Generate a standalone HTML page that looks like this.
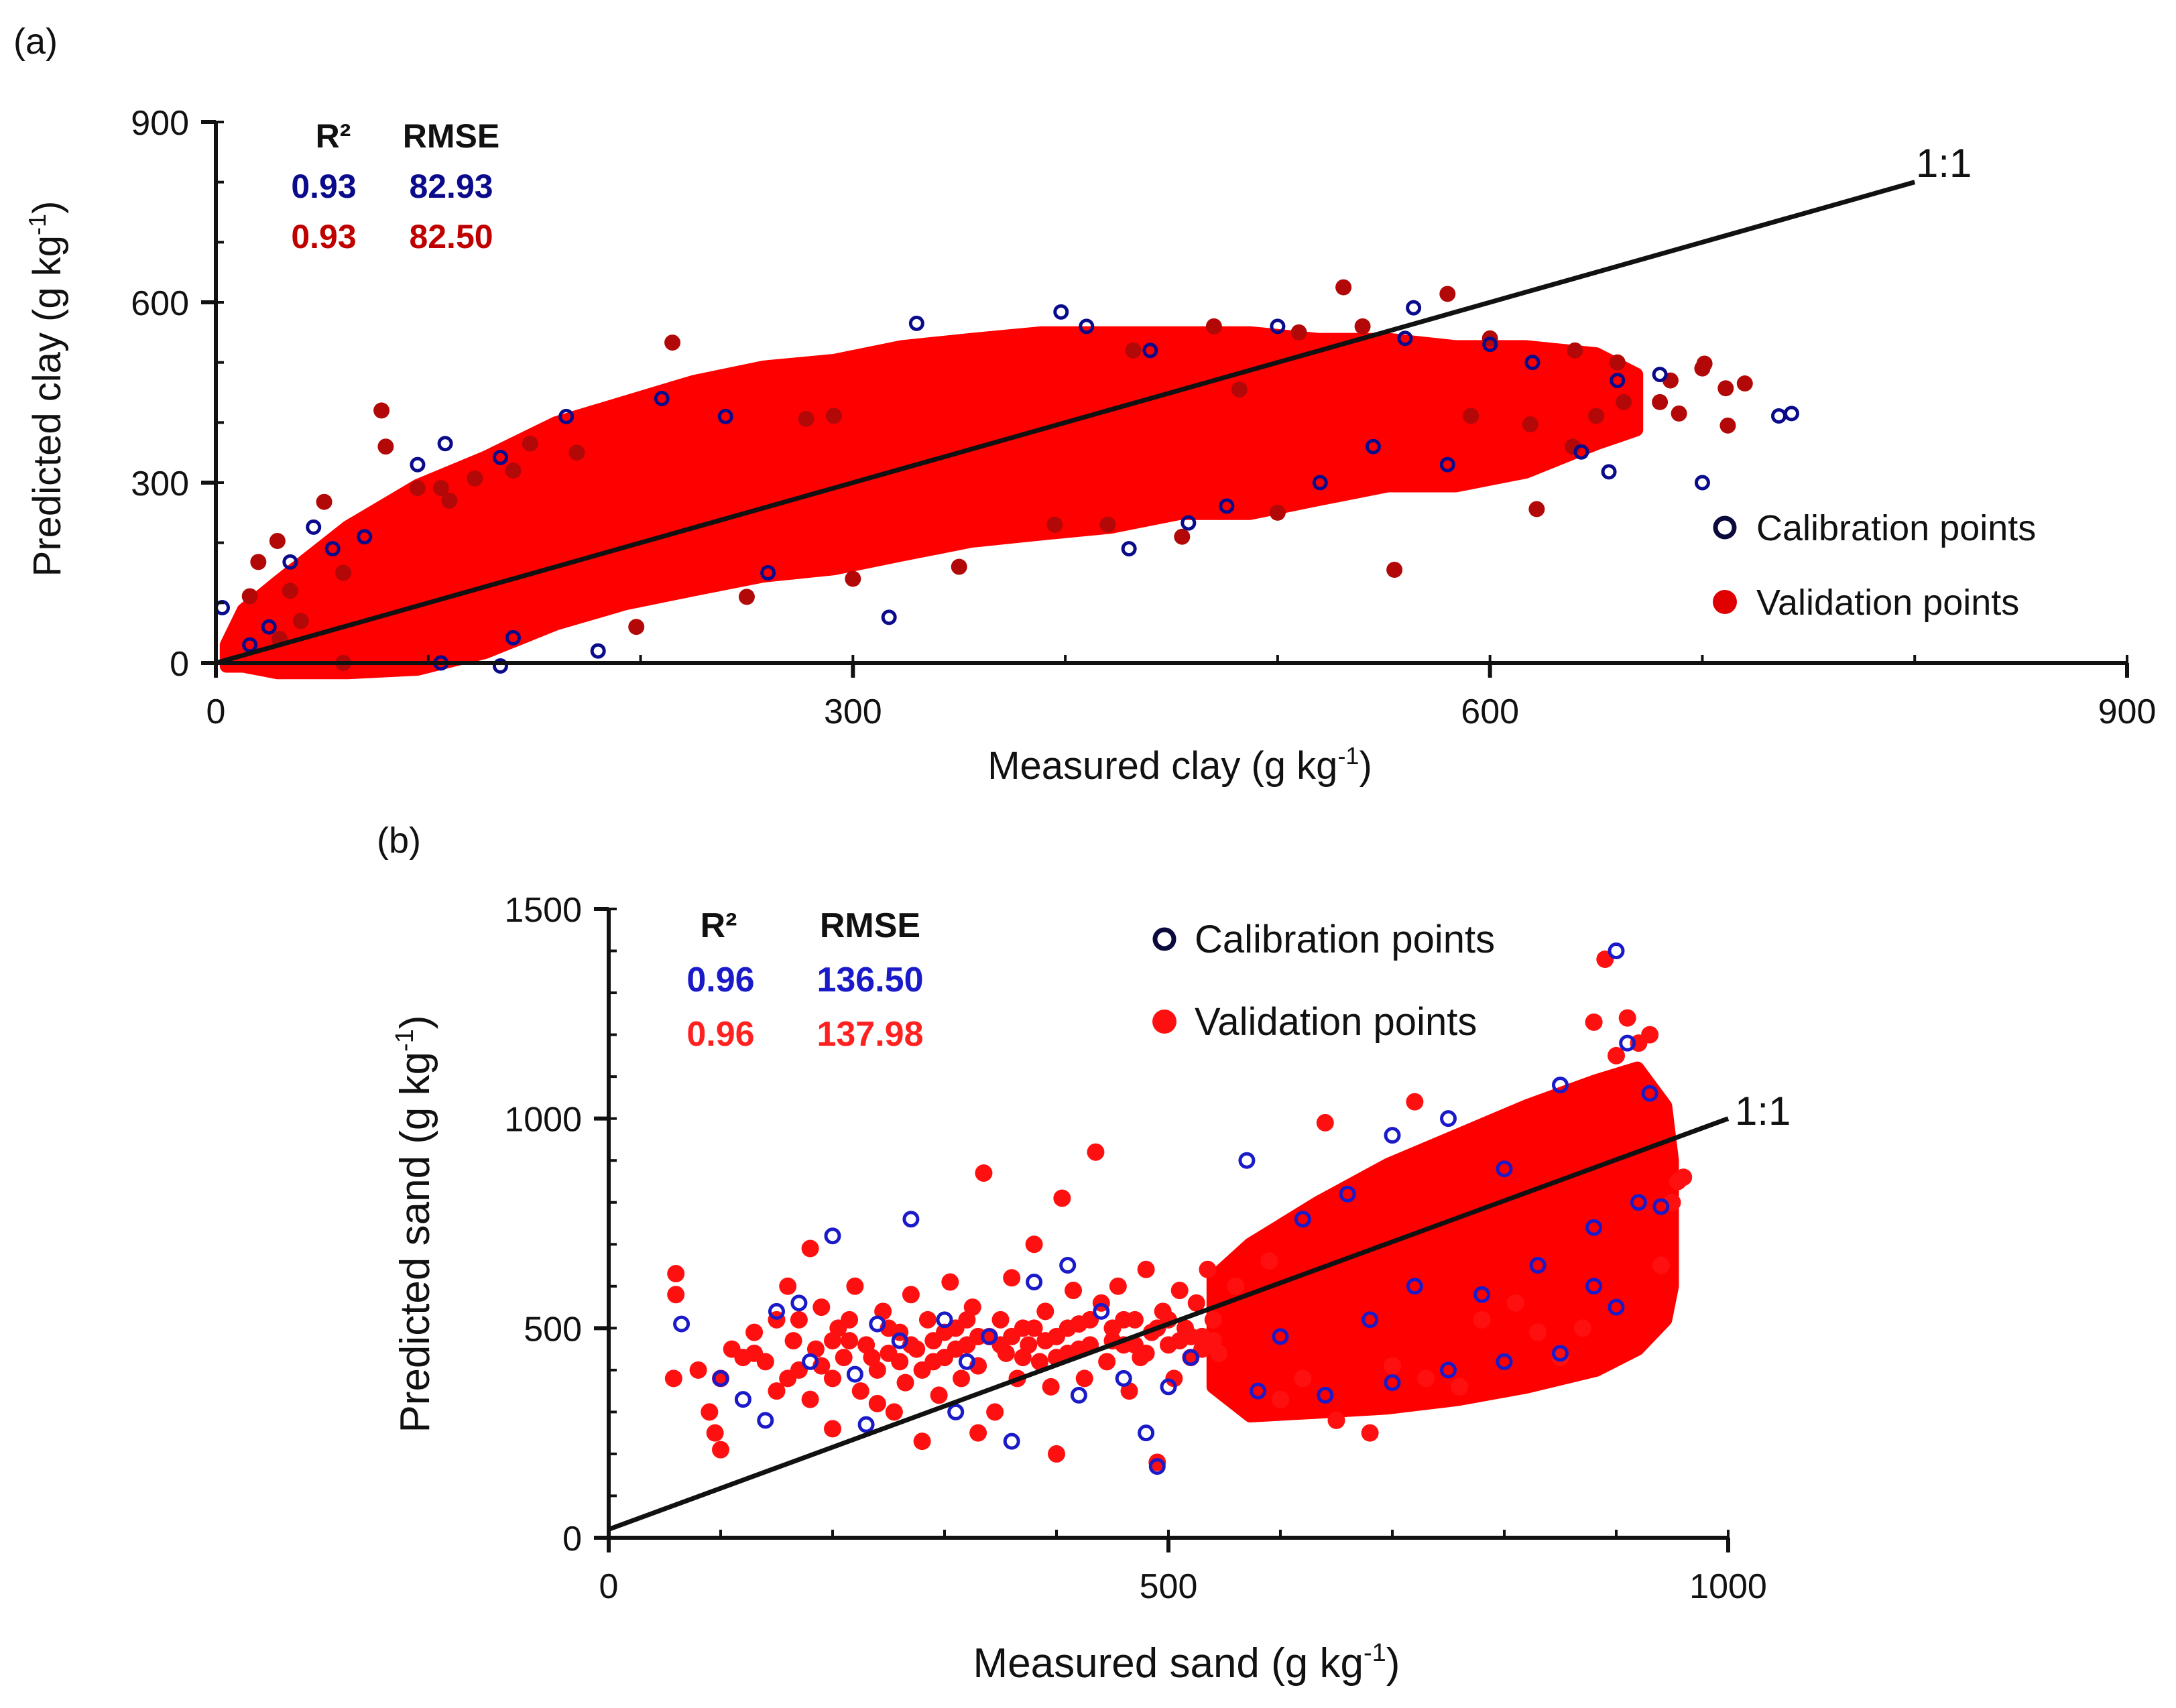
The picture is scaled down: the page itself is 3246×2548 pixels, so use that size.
<!DOCTYPE html>
<html><head><meta charset="utf-8">
<style>
html,body{margin:0;padding:0;background:#fff;}
svg{display:block;font-family:"Liberation Sans",Arial,sans-serif;}
</style></head>
<body>
<svg id="fig" width="3246" height="2548" viewBox="0 0 3246 2548" xmlns="http://www.w3.org/2000/svg">
<rect width="3246" height="2548" fill="#fff"/>
<g id="pa"></g>
<g id="pb"></g>
</svg>
<script>
// ---------- Panel A data (clay) ----------
const aTicksX = [0, 300, 600, 900];
const aTicksY = [0, 300, 600, 900];
const aBandX  = [5, 13, 29, 62, 95, 127, 160, 193, 225, 258, 291, 323, 356, 389, 421, 454, 487, 519, 552, 584, 617, 650, 669];
const aBandLo = [-5, -5, -16, -16, -10, 18, 65, 99, 122, 145, 157, 180, 203, 215, 226, 249, 249, 272, 295, 295, 318, 365, 388];
const aBandHi = [30, 88, 134, 226, 295, 342, 399, 434, 468, 492, 503, 526, 538, 549, 549, 549, 549, 538, 538, 526, 526, 514, 480];
const aValX = [78, 80, 20, 29, 51, 16, 95, 106, 122, 148, 215, 278, 291, 531, 580, 555, 622, 701, 711, 712, 680, 689, 663, 650, 639, 619, 591, 482, 395, 432, 470, 510, 540, 600, 640, 660, 685, 700, 720, 35, 60, 110, 140, 170, 420, 455, 500, 350, 300, 250, 198, 60, 40, 30];
const aValY = [420, 360, 168, 203, 268, 111, 291, 291, 307, 365, 533, 406, 411, 625, 614, 155, 256, 498, 457, 395, 434, 415, 434, 411, 360, 397, 411, 455, 230, 520, 560, 550, 560, 540, 520, 500, 470, 490, 465, 120, 150, 270, 320, 350, 230, 210, 250, 160, 140, 110, 60, 0, 70, 40];
const aCalX = [3, 16, 46, 35, 108, 95, 134, 140, 134, 106, 317, 330, 398, 458, 476, 564, 643, 656, 736, 742, 560, 600, 620, 660, 680, 700, 25, 55, 70, 165, 180, 260, 240, 210, 410, 430, 520, 545, 580, 500, 440];
const aCalY = [92, 30, 226, 168, 365, 330, 342, 42, -5, 0, 76, 565, 584, 233, 261, 591, 351, 318, 411, 415, 540, 530, 500, 470, 480, 300, 60, 190, 210, 410, 20, 150, 410, 440, 560, 190, 300, 360, 330, 560, 520];

// ---------- Panel B data (sand) ----------
const bTicksX = [0, 500, 1000];
const bTicksY = [0, 500, 1000, 1500];
const bBandX  = [540, 573, 634, 696, 758, 820, 882, 919, 944, 950];
const bBandLo = [360, 291, 300, 310, 330, 360, 400, 450, 520, 600];
const bBandHi = [620, 700, 800, 890, 960, 1030, 1090, 1120, 1030, 900];
const bValX = [60,60,58,80,90,95,100,100,110,120,130,140,150,150,160,165,170,180,185,190,200,200,210,215,220,225,230,240,245,250,255,260,265,270,275,280,285,290,295,300,305,310,315,320,325,330,335,340,345,350,355,360,365,370,375,380,385,390,395,400,405,410,415,420,425,430,435,440,445,450,455,460,465,470,475,480,485,490,495,500,505,510,515,520,525,530,535,540,545,
130,170,205,235,250,270,290,310,330,350,370,390,410,430,450,470,490,510,530,160,190,215,260,300,320,360,380,400,420,460,480,500,520,540,200,280,400,330,180,240,
890,880,910,640,720,700,780,830,870,940,950,955,760,810,920,600,620,560,590,650,680,730,850,900,930,960];
const bValY = [630,580,380,400,300,250,210,380,450,430,490,420,520,350,600,470,400,690,450,550,380,470,430,520,600,350,460,400,540,440,300,490,370,580,450,400,520,470,340,430,610,500,380,460,550,410,870,480,300,520,440,620,380,500,460,700,420,540,360,480,810,440,590,510,380,460,920,560,420,500,600,460,350,520,430,640,490,180,540,460,380,590,500,430,560,480,640,520,440,
440,520,500,430,500,460,420,450,480,460,430,470,500,520,470,460,500,470,450,380,410,470,420,490,520,480,500,430,450,520,440,520,480,470,260,230,200,250,330,320,
1380,1230,1240,990,1040,410,520,490,500,650,800,850,360,560,1180,330,380,600,660,280,250,380,430,1150,1200,860];
const bCalX = [65,100,120,140,150,170,200,220,240,260,270,300,310,340,360,380,410,420,440,460,480,490,500,520,320,180,230,570,620,660,700,750,800,850,900,910,930,900,880,850,800,750,700,640,580,920,940,880,830,780,720,680,600];
const bCalY = [510,380,330,280,540,560,720,390,510,470,760,520,300,480,230,610,650,340,540,380,250,170,360,430,420,420,270,900,760,820,960,1000,880,1080,1400,1180,1060,550,600,440,420,400,370,340,350,800,790,740,650,580,600,520,480];

const NS = "http://www.w3.org/2000/svg";
function mk(parent, tag, attrs) {
  const e = document.createElementNS(NS, tag);
  for (const k in attrs) e.setAttribute(k, attrs[k]);
  parent.appendChild(e);
  return e;
}
function txt(parent, x, y, s, size, opts) {
  const t = mk(parent, "text", Object.assign({x: x, y: y, "font-size": size, fill: "#111"}, opts || {}));
  t.textContent = s;
  return t;
}

function drawPanel(g, cfg) {
  const sx = v => cfg.x0 + (v / cfg.xmax) * (cfg.x1 - cfg.x0);
  const sy = v => cfg.y0 - (v / cfg.ymax) * (cfg.y0 - cfg.y1);
  let d = "";
  cfg.bandX.forEach((x, i) => { d += (i ? "L" : "M") + sx(x).toFixed(1) + " " + sy(cfg.bandHi[i]).toFixed(1) + " "; });
  for (let i = cfg.bandX.length - 1; i >= 0; i--) d += "L" + sx(cfg.bandX[i]).toFixed(1) + " " + sy(cfg.bandLo[i]).toFixed(1) + " ";
  d += "Z";
  const band = mk(g, "path", {d: d, fill: "#ff0000", stroke: "#ff0000", "stroke-width": 20, "stroke-linejoin": "round"});
  
  
  cfg.valX.forEach((x, i) => {
    const c = mk(g, "circle", {cx: sx(x), cy: sy(cfg.valY[i]), r: cfg.r, fill: cfg.valColor});
    
    
  });
  cfg.calX.forEach((x, i) => {
    const c = mk(g, "circle", {cx: sx(x), cy: sy(cfg.calY[i]), r: cfg.r - 3, fill: "none", stroke: cfg.calColor, "stroke-width": 5});
    
    
  });
  const ln = mk(g, "line", {x1: sx(cfg.lineFrom[0]), y1: sy(cfg.lineFrom[1]), x2: sx(cfg.lineTo[0]), y2: sy(cfg.lineTo[1]), stroke: "#111", "stroke-width": 7});
  
  
  const ll = txt(g, cfg.lineLabel[0], cfg.lineLabel[1], "1:1", 60);
  
  
  const ax = mk(g, "line", {x1: cfg.x0, y1: cfg.y0, x2: cfg.x1, y2: cfg.y0, stroke: "#111", "stroke-width": 6});
  
  
  const ay = mk(g, "line", {x1: cfg.x0, y1: cfg.y0 + 3, x2: cfg.x0, y2: cfg.y1, stroke: "#111", "stroke-width": 6});
  
  
  for (let v = 0; v <= cfg.xmax; v += 100) {
    const t = mk(g, "line", {x1: sx(v), y1: cfg.y0, x2: sx(v), y2: cfg.y0 - 12, stroke: "#111", "stroke-width": 4});
    
    
  }
  for (let v = 0; v <= cfg.ymax; v += 100) {
    const t = mk(g, "line", {x1: cfg.x0, y1: sy(v), x2: cfg.x0 + 12, y2: sy(v), stroke: "#111", "stroke-width": 4});
    
    
  }
  cfg.ticksX.forEach(v => {
    const t = mk(g, "line", {x1: sx(v), y1: cfg.y0, x2: sx(v), y2: cfg.y0 + 22, stroke: "#111", "stroke-width": 6});
    
    
    const l = txt(g, sx(v), cfg.y0 + 90, String(v), 52, {"text-anchor": "middle"});
    
    
  });
  cfg.ticksY.forEach(v => {
    const t = mk(g, "line", {x1: cfg.x0 - 22, y1: sy(v), x2: cfg.x0, y2: sy(v), stroke: "#111", "stroke-width": 6});
    
    
    const l = txt(g, cfg.x0 - 40, sy(v) + 19, String(v), 52, {"text-anchor": "end"});
    
    
  });
}

const pa = document.getElementById("pa");
drawPanel(pa, {x0: 322, x1: 3173, y0: 989, y1: 182, xmax: 900, ymax: 900,
  ticksX: aTicksX, ticksY: aTicksY, bandX: aBandX, bandLo: aBandLo, bandHi: aBandHi,
  valX: aValX, valY: aValY, calX: aCalX, calY: aCalY, r: 12, valColor: "#b30808", calColor: "#0a0a8c",
  lineFrom: [0, 0], lineTo: [800, 800], lineLabel: [2858, 264]});
const pb = document.getElementById("pb");
drawPanel(pb, {x0: 908, x1: 2578, y0: 2294, y1: 1356, xmax: 1000, ymax: 1500,
  ticksX: bTicksX, ticksY: bTicksY, bandX: bBandX, bandLo: bBandLo, bandHi: bBandHi,
  valX: bValX, valY: bValY, calX: bCalX, calY: bCalY, r: 13, valColor: "#ff1010", calColor: "#1a1ac8",
  lineFrom: [0, 20], lineTo: [1000, 1000], lineLabel: [2588, 1678]});
</script>
<svg style="position:absolute;left:0;top:0" width="3246" height="2548">
<g font-family="Liberation Sans, Arial, sans-serif" fill="#111">
<text x="20" y="80" font-size="54">(a)</text>
<text x="1760" y="1162" font-size="58" text-anchor="middle">Measured clay (g kg<tspan font-size="36" dy="-22">-1</tspan><tspan dy="22">)</tspan></text>
<text transform="translate(90,580) rotate(-90)" font-size="58" text-anchor="middle">Predicted clay (g kg<tspan font-size="36" dy="-22">-1</tspan><tspan dy="22">)</tspan></text>
<text x="497" y="220" font-size="50" font-weight="bold" text-anchor="middle">R²</text>
<text x="673" y="220" font-size="50" font-weight="bold" text-anchor="middle">RMSE</text>
<text x="483" y="295" font-size="50" font-weight="bold" fill="#0a0a8c" text-anchor="middle">0.93</text>
<text x="673" y="295" font-size="50" font-weight="bold" fill="#0a0a8c" text-anchor="middle">82.93</text>
<text x="483" y="370" font-size="50" font-weight="bold" fill="#c00000" text-anchor="middle">0.93</text>
<text x="673" y="370" font-size="50" font-weight="bold" fill="#c00000" text-anchor="middle">82.50</text>
<circle cx="2573" cy="787" r="14" fill="none" stroke="#0a0a3c" stroke-width="7"/>
<text x="2620" y="806" font-size="54">Calibration points</text>
<circle cx="2573" cy="898" r="18" fill="#e00000"/>
<text x="2620" y="917" font-size="54">Validation points</text>

<text x="562" y="1272" font-size="54">(b)</text>
<text x="1770" y="2502" font-size="62" text-anchor="middle">Measured sand (g kg<tspan font-size="38" dy="-24">-1</tspan><tspan dy="24">)</tspan></text>
<text transform="translate(640,1826) rotate(-90)" font-size="62" text-anchor="middle">Predicted sand (g kg<tspan font-size="38" dy="-24">-1</tspan><tspan dy="24">)</tspan></text>
<text x="1072" y="1398" font-size="52" font-weight="bold" text-anchor="middle">R²</text>
<text x="1298" y="1398" font-size="52" font-weight="bold" text-anchor="middle">RMSE</text>
<text x="1075" y="1479" font-size="52" font-weight="bold" fill="#1a1ac8" text-anchor="middle">0.96</text>
<text x="1298" y="1479" font-size="52" font-weight="bold" fill="#1a1ac8" text-anchor="middle">136.50</text>
<text x="1075" y="1560" font-size="52" font-weight="bold" fill="#ff2020" text-anchor="middle">0.96</text>
<text x="1298" y="1560" font-size="52" font-weight="bold" fill="#ff2020" text-anchor="middle">137.98</text>
<circle cx="1737" cy="1401" r="14" fill="none" stroke="#0a0a3c" stroke-width="7"/>
<text x="1782" y="1421" font-size="58">Calibration points</text>
<circle cx="1737" cy="1524" r="18" fill="#ff1010"/>
<text x="1782" y="1544" font-size="58">Validation points</text>
</g>
</svg>
</body></html>
